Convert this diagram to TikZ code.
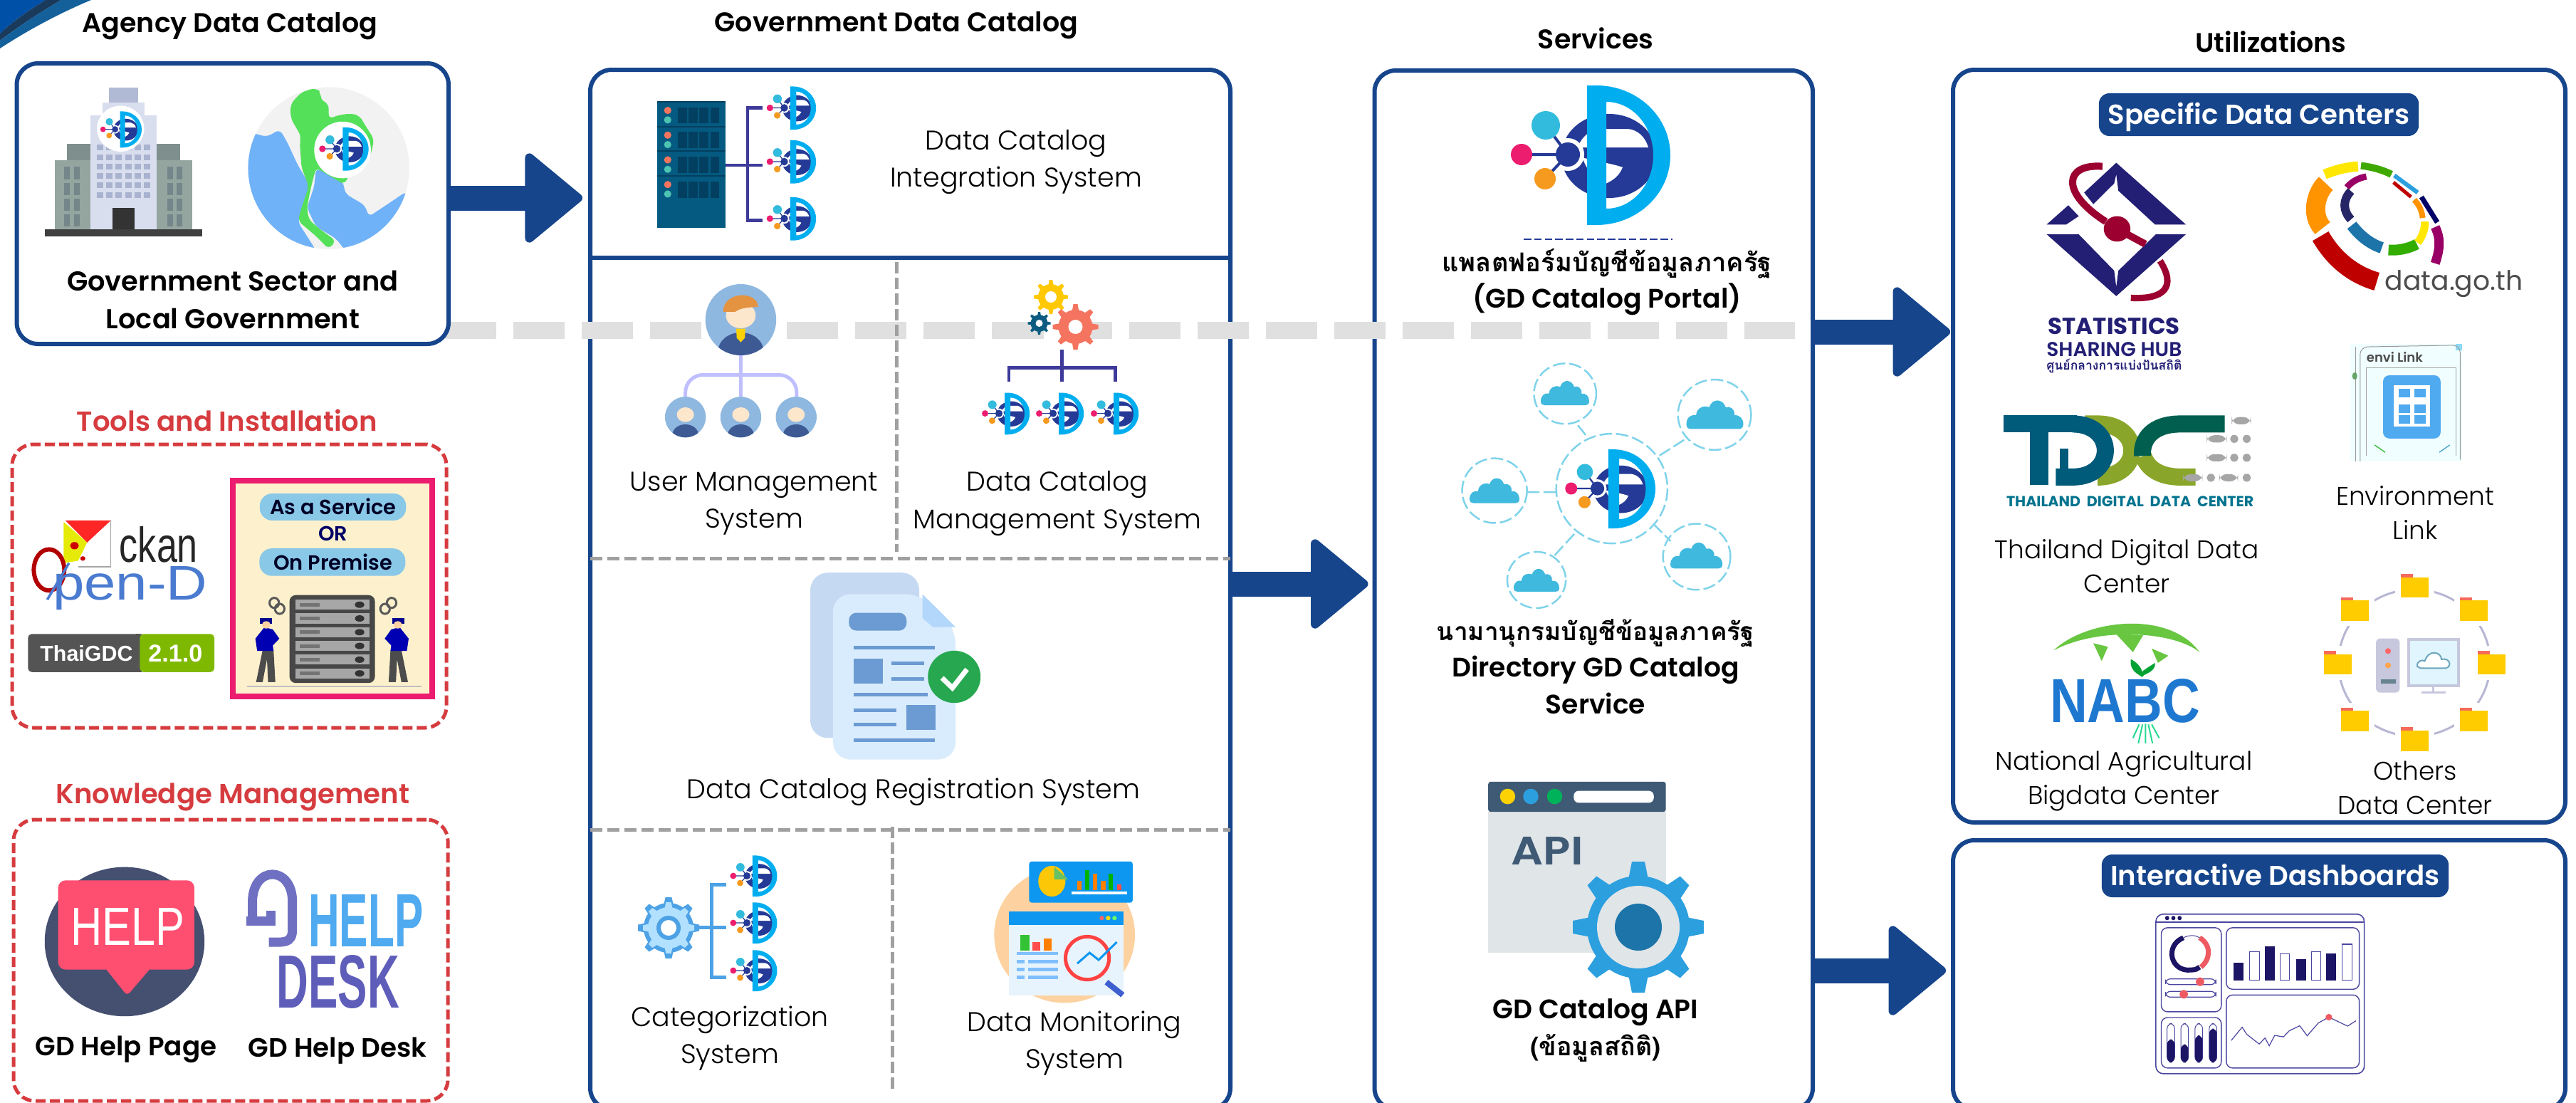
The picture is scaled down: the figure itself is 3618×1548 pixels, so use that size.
\documentclass[tikz,border=0pt]{standalone}
\usepackage{fontspec}
\usepackage{graphicx}
\usetikzlibrary{arrows.meta}
\setmainfont{Poppins}
\newfontfamily\lightf{Poppins Light}
\newfontfamily\semif{Poppins SemiBold}
\newfontfamily\thaif[Script=Thai]{Loma}
\newfontfamily\libf{Liberation Sans}
\definecolor{pnavy}{HTML}{16458C}
\definecolor{kred}{HTML}{D63C3F}
\definecolor{dgray}{HTML}{A0A0A0}
\definecolor{band}{HTML}{E0E0E0}
\definecolor{gdnavy}{HTML}{253A96}
\definecolor{gdcyan}{HTML}{00AEEF}
\definecolor{gdpink}{HTML}{EC1C6E}
\definecolor{gdteal}{HTML}{33BBDD}
\definecolor{gdorange}{HTML}{F59A1F}
\definecolor{trunk}{HTML}{3D3A9A}
\definecolor{statnavy}{HTML}{231F75}
\definecolor{maroon}{HTML}{9B0030}
\definecolor{pblue}{HTML}{8FB8E0}
\definecolor{pdark}{HTML}{3D5A94}
\definecolor{pskin}{HTML}{FCE6CC}
\definecolor{docblue}{HTML}{6B9BD2}
\definecolor{catblue}{HTML}{4DA2E6}
\definecolor{dashnavy}{HTML}{1C1464}
\definecolor{dashred}{HTML}{EE5A62}
\definecolor{dashline}{HTML}{4A46A0}
\definecolor{bldside}{HTML}{94A5A0}
\definecolor{bldtop}{HTML}{7F8F8D}
\definecolor{bldmid}{HTML}{D8DEEE}
\definecolor{bldroof}{HTML}{B0BAD4}
\definecolor{bldwin}{HTML}{A9B3CF}
\definecolor{bldwin2}{HTML}{75868A}
\definecolor{mapblue}{HTML}{70B2F8}
\definecolor{mapgreen}{HTML}{55E05A}
\definecolor{cardfill}{HTML}{FDF1CD}
\definecolor{cardpill}{HTML}{8AC8E8}
\definecolor{helpred}{HTML}{FF4F70}
\definecolor{helpdisk}{HTML}{454F70}
\definecolor{apihead}{HTML}{3F5A75}
\definecolor{apibody}{HTML}{E0E5E8}
\definecolor{apigear}{HTML}{2C9FDF}
\definecolor{apicore}{HTML}{1C74A8}
\definecolor{rack}{HTML}{045A80}
\definecolor{rackdark}{HTML}{033F60}
\definecolor{opblue}{HTML}{4A7BD0}
\definecolor{tdteal}{HTML}{005A7A}
\definecolor{tdgreen}{HTML}{005F4F}
\definecolor{tdolive}{HTML}{8AA62A}
\definecolor{folderY}{HTML}{FFCC00}
\definecolor{folderR}{HTML}{F56B5B}
\definecolor{skyblue}{HTML}{0D97F0}
\definecolor{cloudc}{HTML}{3FB9DD}
\definecolor{cloudr}{HTML}{7FD3EA}
\definecolor{badgeg}{HTML}{7FB800}
\definecolor{enviblue}{HTML}{4FAAF0}
\definecolor{nabcblue}{HTML}{1F78D0}
\definecolor{gearyel}{HTML}{FFC800}
\definecolor{gearred}{HTML}{F4745F}
\definecolor{gearblue}{HTML}{0B5C80}
\definecolor{banA}{HTML}{0050A8}
\definecolor{banB}{HTML}{1A3A5C}
\definecolor{banC}{HTML}{14609A}
\definecolor{docback}{HTML}{C5DAF2}
\definecolor{docfront}{HTML}{D9ECFD}
\definecolor{docfold}{HTML}{B3D7FB}
\definecolor{okgreen}{HTML}{27A850}
\definecolor{peach}{HTML}{FDD2A0}
\definecolor{winbody}{HTML}{E8F4FD}
\definecolor{lenshandle}{HTML}{3F5FD0}
\tikzset{
 lw/.style={line width=#1*0.01cm},
 cA/.style={shift={(0,0)},xscale=.5102,yscale=.3316},
 cB/.style={shift={(0,540)},xscale=.5102,yscale=.6429},
 cC/.style={shift={(800,0)},xscale=.6378,yscale=.5102},
 cD/.style={shift={(800,760)},xscale=.6378,yscale=.5026},
 cE/.style={shift={(1900,0)},xscale=.4464,yscale=.9872},
 cF/.style={shift={(2700,0)},xscale=.5855,yscale=.5102},
 cG/.style={shift={(2700,760)},xscale=.5855,yscale=.5026},
 boxpanel/.style={draw=pnavy,fill=white,lw=6,rounded corners=8.5pt,inner sep=0pt,outer sep=0pt},
 dpanel/.style={draw=kred,lw=5,dash pattern=on .14cm off .06cm,rounded corners=8.5pt,inner sep=0pt,outer sep=0pt},
 headtitle/.style={font=\semif\fontsize{10.8}{13}\selectfont,inner sep=0pt},
 redtitle/.style={font=\semif\fontsize{11}{13}\selectfont,text=kred,inner sep=0pt},
 boldlbl/.style={font=\semif\fontsize{10.6}{14.8}\selectfont,align=center,inner sep=0pt},
 svclbl/.style={font=\semif\fontsize{10.7}{14.7}\selectfont,align=center,inner sep=0pt},
 lite/.style={font=\lightf\fontsize{10.8}{14.8}\selectfont,align=center,inner sep=0pt},
 liteU/.style={font=\lightf\fontsize{10.2}{13.7}\selectfont,align=center,inner sep=0pt},
 pilltxt/.style={fill=pnavy,text=white,font=\semif\fontsize{11}{12}\selectfont,rounded corners=4.2pt,inner sep=0pt,outer sep=0pt,text height=7.7pt,text depth=0pt},
 bigarrow/.style={pnavy,lw=35,-{Triangle[length=.84cm,width=1.36cm,round,line width=.12cm]}},
 plain/.style={inner sep=0pt,outer sep=0pt},
 tree/.style={trunk,lw=4.5},
 cloudring/.style={draw=cloudr,lw=2.5,dash pattern=on 5pt off 1.6pt},
}
\newcommand{\fw}[2]{\resizebox{#1cm}{!}{#2}}
\newcommand{\thaib}[2]{\resizebox{#1cm}{!}{\thaif\bfseries #2}}
\newcommand{\panelbox}[6][boxpanel]{\node[#1,minimum width={(#5-#3)*0.01cm},minimum height={(#6-#4)*0.01cm}] (#2) at ({(#3+#5)/2},{(#4+#6)/2}) {};}
% GD logo: hub at (#1,#2), scale #3, all in reference pixels
\newcommand{\gdl}[3]{\begin{scope}[shift={(#1,#2)},scale=#3]
 \fill[gdnavy] (58,2) circle[x radius=67,y radius=59];
 \fill[white] (14,-10) -- (113,-10) .. controls (108,-26) and (98,-34) .. (85,-36) -- (40,-36) .. controls (28,-32) and (18,-22) .. cycle;
 \fill[white] (20,4) .. controls (40,10) and (60,12) .. (77,18) .. controls (72,30) and (64,36) .. (53,41) .. controls (40,40) and (28,24) .. cycle;
 \fill[gdcyan,even odd rule] (27,-97) -- (40,-97) arc[start angle=-90,end angle=90,x radius=104,y radius=98] -- (27,99) -- cycle (54,-74) arc[start angle=-90,end angle=90,x radius=66,y radius=75] -- cycle;
 \fill[white] (0,0) circle[radius=23];
 \draw[gdnavy,line width={4*#3*0.01cm}] (-65,0)--(0,0) (-31,-41)--(0,0) (-32,34)--(0,0);
 \fill[gdpink] (-65,0) circle[radius=15];
 \fill[gdteal] (-31,-41) circle[radius=20];
 \fill[gdorange] (-32,34) circle[radius=15];
 \fill[gdnavy] (0,0) circle[radius=17];
\end{scope}}
% gear in pixels: x,y,outer radius,body radius,teeth,colour
\newcommand{\gearicon}[6]{\begin{scope}[shift={(#1,#2)}]
 \fill[#6] (0,0) circle[radius=#4];
 \foreach \k in {1,...,#5}{\fill[#6,rotate={\k*360/#5}] (#4*.9,{-1.6*#4/#5}) -- (#3,{-1.0*#4/#5}) -- (#3,{1.0*#4/#5}) -- (#4*.9,{1.6*#4/#5}) -- cycle;}
\end{scope}}
\newcommand{\pbadge}[4]{\begin{scope}
 \fill[pblue] (#1,#2) circle[x radius=#3,y radius=#4];
 \clip (#1,#2) circle[x radius=#3,y radius=#4];
 \fill[pskin] (#1,{#2-.12*#4}) circle[x radius=.42*#3,y radius=.36*#4];
 \fill[pdark] (#1,{#2+.88*#4}) circle[x radius=.64*#3,y radius=.52*#4];
\end{scope}}
\newcommand{\cloudicon}[3]{\begin{scope}[shift={(#1,#2)},scale=#3]
 \fill[cloudc] (-.5,.2) .. controls (-.5,.08) and (-.42,.02) .. (-.33,.04) .. controls (-.32,-.1) and (-.18,-.14) .. (-.1,-.1) .. controls (-.05,-.26) and (.14,-.26) .. (.19,-.1) .. controls (.27,-.13) and (.36,-.06) .. (.34,.04) .. controls (.44,.03) and (.5,.1) .. (.5,.2) .. controls (.5,.26) and (.46,.28) .. (.42,.28) -- (-.42,.28) .. controls (-.46,.28) and (-.5,.26) .. (-.5,.2) -- cycle;
\end{scope}}
\newcommand{\folderic}[2]{
 \fill[white] ({#1-47},{#2-47}) rectangle ({#1+47},{#2+47});
 \fill[folderR] ({#1-33},{#2-33}) rectangle ({#1-4},{#2-20});
 \fill[folderY] ({#1-33},{#2-24}) -- ({#1+33},{#2-24}) -- ({#1+33},{#2+33}) -- ({#1-33},{#2+33}) -- cycle;
}
\begin{document}
\begin{tikzpicture}[x=0.01cm,y=0.01cm,yscale=-1]
\clip (0,0) rectangle (3618,1548);
\fill[white] (0,0) rectangle (3618,1548);
% corner banner
\fill[banA] (0,0) -- (64,0) .. controls (40,15) and (18,30) .. (0,47) -- cycle;
\fill[banB] (64,0) -- (86,0) .. controls (55,18) and (25,38) .. (0,57) -- (0,47) .. controls (18,30) and (40,15) .. (64,0) -- cycle;
\fill[banC] (86,0) -- (128,0) .. controls (80,20) and (35,45) .. (0,68) -- (0,57) .. controls (25,38) and (55,18) .. (86,0) -- cycle;
% main panels
\panelbox{gov}{829}{98}{1728}{1558}
\panelbox{svc}{1930.5}{99}{2546}{1558}
\panelbox{util}{2743}{98}{3603}{1155}
\panelbox{dash}{2743}{1180}{3603}{1558}
\draw[band,lw=24,dash pattern=on .72cm off .24cm] (625,464) -- (2521,464);
\panelbox{agency}{23.5}{89}{630}{483}
\panelbox[dpanel]{tools}{17}{624}{627}{1022}
\panelbox[dpanel]{know}{19}{1151}{629}{1546}
% gov dividers
\draw[pnavy,lw=6] (gov.west |- 0,362) -- (gov.east |- 0,362);
\draw[dgray,lw=5,dash pattern=on .17cm off .07cm] (gov.west |- 0,784) -- (gov.east |- 0,784);
\draw[dgray,lw=5,dash pattern=on .17cm off .07cm] (gov.west |- 0,1165) -- (gov.east |- 0,1165);
\draw[dgray,lw=5,dash pattern=on .16cm off .06cm] (1259,368) -- (1259,775);
\draw[dgray,lw=5,dash pattern=on .16cm off .06cm] (1253.5,1161) -- (1253.5,1530);
% arrows
\draw[bigarrow,shorten >=.11cm] (agency.east |- 0,278) -- (gov.west |- 0,278);
\draw[bigarrow,shorten <=.03cm,shorten >=.09cm] (gov.east |- 0,820) -- (svc.west |- 0,820);
\draw[bigarrow,shorten >=.04cm] (svc.east |- 0,466) -- (util.west |- 0,466);
\draw[bigarrow,shorten >=.10cm] (svc.east |- 0,1363) -- (dash.west |- 0,1363);
% headings
\node[headtitle] (tAgency) at (323,37) {Agency Data Catalog};
\node[headtitle] (tGov) at (1259,36) {Government Data Catalog};
\node[headtitle] (tSvc) at (2241,54) {Services};
\node[headtitle] (tUtil) at (3189.5,59) {Utilizations};
\node[redtitle] (tTools) at (319,590) {Tools and Installation};
\node[redtitle] (tKnow) at (327,1119) {Knowledge Management};
% building
\begin{scope}[cA]
 \fill[black!75] (123,972) rectangle (556,1002);
 \fill[bldside] (150,680) rectangle (530,972);
 \fill[bldtop] (185,610) rectangle (495,680);
 \fill[bldmid] (248,490) rectangle (432,972);
 \fill[bldmid] (283,435) rectangle (397,490);
 \fill[bldroof] (300,370) rectangle (380,435);
 \fill[black!80] (310,880) rectangle (370,972);
 \foreach \r in {625,665,705,745,785,825}{\foreach \c in {275,301,327,353,379,405}{\fill[bldwin] ({\c-9},{\r-12}) rectangle ({\c+9},{\r+12});}}
 \foreach \c in {185,212,468,494}{\foreach \r in {707,775,842,908}{\fill[bldwin2] ({\c-8},\r) rectangle ({\c+8},{\r+52});}}
 \fill[white] (332,545) circle[x radius=65,y radius=97];
\end{scope}
% map
\begin{scope}[cA]
 \begin{scope}
 \clip (905,712) circle[x radius=222,y radius=343];
 \fill[black!5] (600,300) rectangle (1200,1100);
 \fill[mapblue,rounded corners=2pt] (600,560) -- (700,565) -- (735,580) -- (770,548) -- (790,600) -- (820,700) -- (855,790) -- (830,880) -- (820,940) -- (870,1060) -- (600,1060) -- cycle;
 \fill[mapblue,rounded corners=2pt] (870,712) -- (945,770) -- (950,820) -- (1005,870) -- (1015,918) -- (1120,810) -- (1160,1060) -- (950,1060) -- (925,1010) -- (870,960) -- (845,880) -- (865,790) -- cycle;
 \fill[mapgreen,rounded corners=2pt] (870,372) -- (885,395) -- (880,420) -- (905,440) -- (905,505) -- (925,490) -- (965,480) -- (990,490) -- (1005,530) -- (1030,590) -- (1020,660) -- (960,740) -- (950,780) -- (935,770) -- (870,710) -- (855,800) -- (845,880) -- (850,930) -- (880,970) -- (925,1020) -- (905,1055) -- (870,1000) -- (820,935) -- (830,880) -- (850,790) -- (830,710) -- (825,600) -- (830,580) -- (800,500) -- (800,440) -- (830,390) -- cycle;
 \end{scope}
 \fill[white] (943,635) circle[x radius=78,y radius=120];
\end{scope}
\gdl{161.6}{181.6}{.26}
\gdl{473}{209}{.31}
\node[boldlbl,font=\semif\fontsize{10.9}{14.8}\selectfont] (agencyTxt) at (327,421) {Government Sector and\\Local Government};
% ckan / Open-D
\begin{scope}[cB]
 \draw[black!35,lw=1.5] (305,297) -- (305,398) -- (215,398);
 \fill[yellow!90!green] (175,300) -- (240,345) -- (215,385) -- (175,390) -- cycle;
 \fill[red!85!white] (180,297) -- (305,297) -- (240,345) -- cycle;
 \fill[red!80!black] (205,352) circle[x radius=12,y radius=8];
 \fill[red!80!black] (228,380) circle[x radius=7,y radius=5];
 \draw[red!70!black,lw=6] (135,405) circle[x radius=42,y radius=45];
 \draw[opblue,lw=3.5] (190,390) -- (130,470);
 \node[plain,text=black!85] (ckan) at (437,350) {\resizebox{1.10cm}{.50cm}{\libf ckan}};
 \node[plain,text=opblue,anchor=base] (opend) at (358,470) {\resizebox{2.17cm}{.47cm}{\libf pen-D}};
\end{scope}
% badge
\begin{scope}[cB]
 \fill[black!67,rounded corners=1.5pt] (77,545) rectangle (400,628);
 \fill[badgeg,rounded corners=1.5pt] (385,545) rectangle (590,628);
 \fill[black!67] (375,545) rectangle (385,628);
 \node[plain,text=white] (bThai) at (238,587) {\fw{1.30}{\libf\bfseries ThaiGDC}};
 \node[plain,text=white] (bVer) at (483,587) {\fw{.76}{\libf\bfseries 2.1.0}};
\end{scope}
% service card
\begin{scope}[cB]
 \draw[draw=gdpink,fill=cardfill,lw=8] (641,210) rectangle (1189,681);
 \fill[cardpill,rounded corners=5pt] (715,238) rectangle (1118,297);
 \fill[cardpill,rounded corners=5pt] (714,358) rectangle (1116,418);
 \node[plain,text=black!85!blue] (asvc) at (917,266) {\fw{1.77}{\semif As a Service}};
 \node[plain,text=blue!40!black] (orw) at (917,325) {\fw{.41}{\semif OR}};
 \node[plain,text=black!85!blue] (onpr) at (917,388) {\fw{1.67}{\semif On Premise}};
 \draw[black!25,lw=2] (680,660) -- (1160,660);
 \fill[black!72,rounded corners=2.5pt] (797,460) rectangle (1032,652);
 \foreach \r in {481,511,541,571,601,631}{
  \fill[gray!70] (813,{\r-11}) rectangle (1017,{\r+11});
  \fill[black!80] (990,\r) circle[x radius=13,y radius=7];
  \fill[black!55] (825,{\r-4}) rectangle (880,{\r+4});
 }
 \foreach \mx/\sg in {733/1,1095/-1}{
  \fill[black!70] ({\mx-28*\sg},650) -- ({\mx-10*\sg},580) -- ({\mx+20*\sg},580) -- ({\mx+25*\sg},650) -- ({\mx+5*\sg},650) -- ({\mx+2*\sg},600) -- ({\mx-10*\sg},650) -- cycle;
  \fill[blue!70!black] ({\mx-30*\sg},555) -- ({\mx-5*\sg},530) -- ({\mx+18*\sg},535) -- ({\mx+36*\sg},555) -- ({\mx+18*\sg},570) -- ({\mx+20*\sg},582) -- ({\mx-25*\sg},582) -- cycle;
  \fill[blue!55!black] ({\mx-18*\sg},510) rectangle ({\mx+16*\sg},522);
  \fill[pskin!80!orange] (\mx,525) circle[x radius=12,y radius=8];
 }
 \foreach \gx/\gy in {755/477,770/490,1078/477,1060/490}{
  \draw[black!65,lw=3] (\gx,\gy) circle[x radius=13,y radius=11];
 }
\end{scope}
% help icon
\begin{scope}[cB]
 \fill[helpdisk] (343,1217) circle[x radius=220,y radius=163];
 \fill[helpred,rounded corners=3pt] (160,1083) rectangle (535,1278);
 \fill[helpred,rounded corners=1.5pt] (285,1270) -- (350,1335) -- (420,1270) -- cycle;
 \node[plain,text=white] (helpw) at (352,1185) {\resizebox{1.60cm}{.52cm}{\libf HELP}};
 \draw[blue!40!gray!80,lw=13] (695,1175) -- (695,1130) .. controls (695,1050) and (805,1050) .. (805,1130) -- (805,1190) .. controls (805,1222) and (780,1218) .. (740,1218);
 \draw[blue!40!gray!80,lw=13] (678,1172) -- (745,1172) -- (745,1150);
 \node[plain,text=enviblue] (helpb) at (1007,1171) {\resizebox{1.61cm}{.73cm}{\libf\bfseries HELP}};
 \node[plain,text=blue!40!gray!90] (deskb) at (931,1305) {\resizebox{1.72cm}{.74cm}{\libf\bfseries DESK}};
\end{scope}
\node[boldlbl] (lHelpP) at (177,1474) {GD Help Page};
\node[boldlbl] (lHelpD) at (474,1476) {GD Help Desk};
% integration icon
\begin{scope}[cC]
 \fill[rack] (193,280) rectangle (343,627);
 \foreach \r in {280,348,416,484}{
  \draw[rackdark,lw=2] (193,\r) -- (343,\r);
  \fill[gearred] (216,{\r+24}) circle[x radius=8,y radius=10];
  \fill[cyan!50!green!70!white] (216,{\r+50}) circle[x radius=8,y radius=10];
  \foreach \c in {238,262,286,310}{\fill[rackdark] (\c,{\r+15}) rectangle ({\c+20},{\r+60});}
 }
 \draw[tree] (343,455) -- (425,455);
 \draw[tree] (425,297) -- (392,297) -- (392,607) -- (425,607);
\end{scope}
\gdl{1101.5}{151.5}{.31}
\gdl{1101.5}{227}{.31}
\gdl{1101.5}{307}{.31}
\node[lite] (lInteg) at (1427,228) {Data Catalog\\Integration System};
% user icon
\begin{scope}[cC]
 \draw[blue!25!white,lw=5] (377,975) -- (377,1095);
 \draw[blue!25!white,lw=5,rounded corners=7pt] (255,1095) -- (255,1032) -- (500,1032) -- (500,1095);
 \pbadge{377}{880}{78}{98}
 \fill[orange!50!brown!85] (338,858) .. controls (338,800) and (415,800) .. (415,845) .. controls (395,845) and (375,848) .. (365,858) -- cycle;
 \pbadge{255}{1148}{45}{56}
 \pbadge{377}{1148}{45}{56}
 \pbadge{499}{1148}{45}{56}
 \fill[yellow!70!orange] (367,905) -- (387,905) -- (386,930) -- (377,942) -- (368,930) -- cycle;
\end{scope}
\node[lite] (lUser) at (1059,707) {User Management\\System};
% catalog management icon
\gearicon{1476}{417}{24}{18}{8}{gearyel}
\fill[white] (1476,417) circle[radius=8];
\gearicon{1459.5}{454}{16}{12}{8}{gearblue}
\fill[white] (1459.5,454) circle[radius=5];
\gearicon{1510.5}{459}{32}{24}{8}{gearred}
\fill[white] (1510.5,459) circle[radius=10];
\begin{scope}[cC]
 \draw[tree] (1084,962) -- (1084,1050);
 \draw[tree] (967,1050) -- (967,1012) -- (1202,1012) -- (1202,1050);
\end{scope}
\gdl{1403}{580.6}{.3}
\gdl{1479}{580.6}{.3}
\gdl{1556}{580.6}{.3}
\node[lite] (lCatMg) at (1485,707) {Data Catalog\\Management System};
% registration icon
\begin{scope}[cD]
 \fill[docback,rounded corners=7pt] (530,88) rectangle (770,550);
 \fill[docfront,rounded corners=7pt] (580,610) -- (580,148) -- (777,148) -- (850,240) -- (850,610) -- cycle;
 \fill[docfold] (777,148) -- (850,240) -- (800,240) -- (777,215) -- cycle;
 \fill[docblue,rounded corners=3pt] (615,200) rectangle (742,250);
 \draw[docblue,lw=5] (625,298) -- (805,298) (708,342) -- (780,342) (708,384) -- (780,384) (625,428) -- (788,428) (625,472) -- (720,472) (625,513) -- (720,513) (625,557) -- (805,557);
 \fill[docblue] (625,328) rectangle (690,398);
 \fill[docblue] (741,458) rectangle (806,527);
 \fill[okgreen] (847,379) circle[x radius=58,y radius=73];
 \draw[white,lw=7] (820,382) -- (843,410) -- (875,358);
\end{scope}
\node[lite] (lReg) at (1283,1112) {Data Catalog Registration System};
% categorization icon
\gearicon{939}{1303}{43}{35}{8}{catblue}
\gearicon{939}{1303}{36}{29}{8}{blue!40!cyan!30!white}
\fill[catblue] (939,1303) circle[radius=17];
\fill[white] (939,1303) circle[radius=11];
\begin{scope}[cD]
 \draw[catblue,lw=5] (285,1080) -- (345,1080);
 \draw[catblue,lw=5] (345,960) -- (312,960) -- (312,1218) -- (345,1218);
\end{scope}
\gdl{1049}{1230}{.295}
\gdl{1049}{1296}{.295}
\gdl{1049}{1363}{.295}
\node[lite] (lCat) at (1025,1458) {Categorization\\System};
% monitoring icon
\begin{scope}[cD]
 \fill[peach] (1090,1100) circle[x radius=155,y radius=190];
 \fill[skyblue,rounded corners=1pt] (1012,895) rectangle (1240,1010);
 \fill[yellow!60!orange] (1062,950) circle[x radius=30,y radius=43];
 \fill[green!60!black!60!white] (1067,910) -- (1098,945) -- (1067,945) -- cycle;
 \foreach \bx/\by/\bc in {1123/950/orange,1140/920/green!70!black,1157/930/orange,1175/950/orange,1192/930/green!70!black,1210/958/red!70}{\fill[\bc] ({\bx-5},\by) rectangle ({\bx+5},975);}
 \draw[white,lw=4] (1105,983) -- (1227,983);
 \fill[winbody] (967,1035) rectangle (1220,1270);
 \fill[skyblue] (967,1035) rectangle (1220,1073);
 \fill[red!60] (1172,1053) circle[x radius=5,y radius=6];
 \fill[yellow!80!orange] (1186,1053) circle[x radius=5,y radius=6];
 \fill[green!60] (1200,1053) circle[x radius=5,y radius=6];
 \fill[green!70!black!80] (993,1100) rectangle (1013,1145);
 \fill[red!70] (1019,1120) rectangle (1037,1145);
 \fill[orange] (1044,1110) rectangle (1062,1145);
 \draw[blue!50!cyan!50!white,lw=4] (985,1152) -- (1075,1152);
 \foreach \r in {1175,1197,1219}{\draw[blue!50!cyan!50!white,lw=5] (985,\r) -- (1002,\r) (1010,\r) -- (1075,\r);}
 \draw[lenshandle,lw=8] (1182,1232) -- (1218,1268);
 \draw[draw=red!65!pink,fill=winbody,lw=5] (1140,1165) circle[x radius=48,y radius=60];
 \draw[skyblue,lw=3] (1118,1180) -- (1145,1150) -- (1165,1170) -- (1205,1120);
\end{scope}
\node[lite] (lMon) at (1509,1465) {Data Monitoring\\System};
% services icons
\gdl{2202}{217}{1}
\draw[gdnavy,lw=2,dash pattern=on 3pt off 1.2pt] (2140,336) -- (2349,336);
\node[svclbl] (lPortal) at (2257,396) {\thaib{4.63}{แพลตฟอร์มบัญชีข้อมูลภาครัฐ}\\(GD Catalog Portal)};
\begin{scope}[cE]
 \draw[cloudring] (815,695) circle[x radius=175,y radius=78];
 \draw[cloudring] (668,560) circle[x radius=98,y radius=43];
 \draw[cloudring] (1138,590) circle[x radius=115,y radius=50];
 \draw[cloudring] (446,698) circle[x radius=102,y radius=46];
 \draw[cloudring] (1082,792) circle[x radius=106,y radius=47];
 \draw[cloudring] (578,825) circle[x radius=92,y radius=40];
 \draw[cloudring] (708,605) -- (735,620) (965,648) -- (1045,625) (548,700) -- (640,700) (945,745) -- (1000,770) (635,790) -- (700,758);
\end{scope}
\cloudicon{2198}{550}{68}
\cloudicon{2408.5}{580}{80}
\cloudicon{2099}{687}{70}
\cloudicon{2382.6}{778}{73}
\cloudicon{2158}{813}{64}
\gdl{2243.5}{686}{.566}
\node[svclbl] (lDir) at (2241,936) {\thaib{4.46}{นามานุกรมบัญชีข้อมูลภาครัฐ}\\Directory GD Catalog\\Service};
\begin{scope}[cE]
 \fill[apibody] (426,1155) rectangle (985,1355);
 \fill[apihead,rounded corners=1pt] (426,1112) rectangle (985,1155);
 \fill[yellow!70!orange] (487,1133) circle[x radius=24,y radius=11];
 \fill[apigear] (560,1133) circle[x radius=24,y radius=11];
 \fill[green!50!cyan!70!black] (635,1133) circle[x radius=24,y radius=11];
 \fill[white,rounded corners=2pt] (695,1125) rectangle (947,1142);
 \node[plain,text=apihead] (apiw) at (612,1210) {\resizebox{1.01cm}{.39cm}{\semif API}};
\end{scope}
\gearicon{2301}{1302}{92}{72}{8}{apigear}
\fill[apibody] (2301,1302) circle[radius=58];
\fill[apicore] (2301,1302) circle[radius=33];
\node[svclbl] (lApi) at (2241,1447) {GD Catalog API\\\thaib{1.83}{(ข้อมูลสถิติ)}};
% utilization pills
\node[pilltxt,minimum width=4.49cm,minimum height=.60cm] (pSpec) at (3172.5,161) {Specific Data Centers};
\node[pilltxt,minimum width=4.87cm,minimum height=.60cm] (pDash) at (3195.5,1230) {Interactive Dashboards};
% statistics hub
\begin{scope}[cF]
 \fill[statnavy] (465,448) -- (632,618) -- (558,618) -- (470,525) -- (465,480) -- (460,505) -- (410,562) -- (388,530) -- cycle;
 \fill[statnavy] (298,618) -- (350,565) -- (375,595) -- (345,618) -- cycle;
 \fill[statnavy] (298,645) -- (375,645) -- (460,745) -- (465,790) -- (470,745) -- (560,645) -- (632,645) -- (465,815) -- cycle;
 \draw[maroon,lw=10] (432,458) .. controls (340,450) and (330,530) .. (440,610);
 \fill[maroon] (467,630) circle[x radius=32,y radius=35];
 \draw[maroon,lw=10] (467,630) -- (535,672);
 \draw[maroon,lw=9] (570,718) .. controls (610,790) and (580,825) .. (500,820);
 \node[plain,text=statnavy] (st1) at (460,897) {\fw{1.85}{\bfseries STATISTICS}};
 \node[plain,text=statnavy] (st2) at (460,962) {\fw{1.90}{\semif SHARING HUB}};
 \node[plain,text=statnavy] (st3) at (460,1007) {\fw{1.90}{\thaif\bfseries ศูนย์กลางการแบ่งปันสถิติ}};
\end{scope}
% data.go.th
\begin{scope}[cF]
 \draw[red!75!black,lw=26] (955,650) .. controls (985,710) and (1030,755) .. (1090,775);
 \draw[orange!85!yellow,lw=27] (960,628) .. controls (930,590) and (945,530) .. (968,505);
 \draw[yellow!90!orange,lw=14] (965,480) .. controls (985,470) and (1015,460) .. (1045,458);
 \draw[green!55!black!75!yellow,lw=10] (1052,456) .. controls (1080,460) and (1105,468) .. (1125,480);
 \draw[apigear,lw=6] (1132,483) -- (1188,530);
 \draw[blue!40!black,lw=7] (1197,542) -- (1235,612);
 \draw[violet!80!red,lw=13] (1230,625) .. controls (1245,660) and (1240,690) .. (1230,725);
 \draw[violet!80!red,lw=9] (1018,516) .. controls (1030,500) and (1045,490) .. (1065,486);
 \draw[blue!30!black!85,lw=12] (1028,526) .. controls (1008,550) and (1008,580) .. (1028,604);
 \draw[apicore,lw=16] (1030,620) .. controls (1050,650) and (1075,672) .. (1102,682);
 \draw[green!60!black!80!yellow,lw=15] (1118,688) .. controls (1140,690) and (1165,685) .. (1186,672);
 \draw[yellow!90!orange,lw=11] (1188,668) .. controls (1200,650) and (1206,630) .. (1205,610);
 \draw[orange!85!yellow,lw=8] (1200,600) .. controls (1198,580) and (1192,565) .. (1180,550);
 \draw[red!75!black,lw=5] (1172,542) -- (1130,502);
 \node[plain,text=black!70] (dgo) at (1275,782) {\fw{1.93}{data.go.th}};
\end{scope}
% envi link
\begin{scope}[cF]
 \fill[blue!6!cyan!6!white] (1027,947) rectangle (1295,1270);
 \fill[cyan!45] (1280,947) rectangle (1295,965);
 \draw[black!40,lw=1,rounded corners=3pt] (1040,1270) -- (1040,955);
 \draw[black!40,lw=1,rounded corners=3pt] (1050,1270) -- (1050,955) -- (1290,950) -- (1290,1265);
 \draw[black!35,lw=1] (1065,1255) -- (1065,1012) -- (1280,1012) -- (1280,1255);
 \fill[enviblue,rounded corners=2.5pt] (1105,1033) rectangle (1243,1207);
 \fill[white] (1130,1060) rectangle (1218,1175);
 \foreach \cx in {1143,1180}{\foreach \cy in {1070,1113,1143}{\fill[enviblue] (\cx,\cy) rectangle ({\cx+27},{\cy+24});}}
 \node[plain,text=black!70] (envi) at (1133,983) {\fw{.79}{\semif envi Link}};
 \fill[green!40!black!60] (1037,1035) circle[x radius=6,y radius=10];
 \draw[green!50!gray,lw=1.5] (1085,1225) -- (1110,1245);
 \draw[cyan!60!gray,lw=1.5] (1240,1245) -- (1265,1225);
\end{scope}
\node[liteU] (lEnvi) at (3392,720) {Environment\\Link};
% TDDC
\begin{scope}[cF]
 \draw[tdteal,lw=24] (195,1167) -- (370,1167);
 \draw[tdteal,lw=26] (280,1190) -- (280,1335);
 \draw[tdolive,lw=24] (390,1167) -- (420,1167) .. controls (530,1167) and (530,1313) .. (420,1313);
 \draw[tdteal,lw=24] (360,1167) .. controls (465,1167) and (465,1313) .. (360,1313) -- (320,1313);
 \draw[tdteal,lw=12] (340,1313) -- (340,1235);
 \draw[tdolive,lw=24] (530,1255) .. controls (540,1290) and (570,1313) .. (620,1313) -- (655,1313);
 \draw[tdgreen,lw=24] (725,1167) -- (620,1167) .. controls (550,1167) and (525,1210) .. (528,1255);
 \foreach \a/\b/\yy in {742/788/1158,682/730/1208,682/730/1260,625/672/1315,712/757/1315}{\fill[black!35,rounded corners=3pt] (\a,{\yy-10}) rectangle (\b,{\yy+10});}
 \foreach \a/\yy in {748/1208,778/1208,748/1260,778/1260,692/1315,778/1315}{\fill[black!35] (\a,\yy) circle[x radius=10,y radius=11];}
 \node[plain,text=tdteal!85!cyan] (tddc) at (498,1380) {\fw{3.47}{\bfseries THAILAND\ \ DIGITAL\ \ DATA\ \ CENTER}};
\end{scope}
\node[liteU] (lTddc) at (2987,795) {Thailand Digital Data\\Center};
% NABC
\begin{scope}[cG]
 \fill[green!70!yellow!70!black!75!white] (315,305) .. controls (390,220) and (590,190) .. (665,310) .. controls (600,250) and (420,240) .. (315,305) -- cycle;
 \fill[green!70!yellow!70!black!75!white] (410,285) -- (445,295) -- (430,335) -- cycle (465,260) -- (530,262) -- (505,310) -- cycle (550,300) -- (590,320) -- (565,340) -- cycle;
 \fill[green!55!black!80!cyan] (500,330) .. controls (495,370) and (530,375) .. (527,382) .. controls (525,370) and (560,370) .. (558,340) .. controls (545,350) and (530,360) .. (527,365) .. controls (525,350) and (510,335) .. (500,330) -- cycle;
 \node[plain,text=nabcblue] (nabc) at (486,446) {\resizebox{2.11cm}{.61cm}{\libf\bfseries NABC}};
 \draw[green!40!cyan!70!gray,lw=2] (535,510) -- (535,565) (520,512) -- (505,550) (550,512) -- (568,550) (528,512) -- (518,565) (542,512) -- (552,565);
\end{scope}
\node[liteU] (lNabc) at (2983,1097) {National Agricultural\\Bigdata Center};
% others data center
\begin{scope}[cG]
 \draw[blue!25!gray!45,lw=3] (1180,340) circle[x radius=182,y radius=205];
 \folderic{1181}{125}
 \folderic{1323}{190}
 \folderic{1365}{340}
 \folderic{1323}{498}
 \folderic{1181}{553}
 \folderic{1038}{498}
 \folderic{996}{340}
 \folderic{1038}{190}
 \fill[blue!25!gray!35,rounded corners=1.5pt] (1088,272) rectangle (1145,423);
 \fill[red!60] (1117,307) circle[x radius=7,y radius=8];
 \fill[orange!70] (1117,347) circle[x radius=7,y radius=8];
 \fill[cyan!40!black!80] (1100,385) rectangle (1135,397);
 \draw[draw=blue!25!gray!35,fill=cyan!12!white,lw=4] (1167,275) rectangle (1286,403);
 \draw[blue!25!gray!35,lw=3] (1225,405) -- (1225,420) (1198,422) -- (1255,422);
 \draw[cyan!45!gray,fill=white,lw=2] (1187,350) .. controls (1185,335) and (1200,330) .. (1205,335) .. controls (1215,300) and (1245,310) .. (1245,330) .. controls (1265,325) and (1272,350) .. (1255,355) -- (1195,355) -- cycle;
\end{scope}
\node[liteU] (lOther) at (3392,1106) {Others\\Data Center};
% dashboard
\begin{scope}[cG]
 \draw[dashline,lw=1.6,rounded corners=3pt] (560,1488) -- (560,1042) -- (1060,1042) -- (1060,1488) -- cycle;
 \draw[dashline,lw=1.6] (560,1065) -- (1060,1065);
 \foreach \dx in {587,602,617}{\fill[dashnavy] (\dx,1053) circle[x radius=5,y radius=6];}
 \draw[dashline,lw=1.4,rounded corners=2.5pt] (573,1080) rectangle (717,1315);
 \draw[dashline,lw=1.4,rounded corners=2.5pt] (729,1080) rectangle (1048,1252);
 \draw[dashline,lw=1.4,rounded corners=2.5pt] (573,1331) rectangle (717,1472);
 \draw[dashline,lw=1.4,rounded corners=2.5pt] (729,1268) rectangle (1048,1472);
 \draw[dashnavy,lw=7] (626,1108) .. controls (580,1130) and (595,1205) .. (645,1198) .. controls (655,1198) and (660,1195) .. (665,1190);
 \draw[dashred,lw=7] (665,1108) .. controls (695,1130) and (690,1170) .. (668,1190);
 \draw[dashline,lw=1] (626,1108) .. controls (640,1100) and (655,1100) .. (665,1108);
 \foreach \sy/\sx in {1231/666,1266/627}{
  \draw[dashline,lw=1.2,rounded corners=2pt] (583,{\sy-8}) rectangle (704,{\sy+8});
  \fill[dashred] (\sx,\sy) circle[x radius=10,y radius=12];
 }
 \foreach \a/\t in {747/1178,822/1132,896/1168,968/1152}{\fill[dashnavy] (\a,\t) rectangle ({\a+24},1227);}
 \foreach \a/\t in {785/1147,858/1153,933/1147,1007/1126}{\draw[dashline,lw=1.2] (\a,\t) rectangle ({\a+23},1227);}
 \foreach \a/\t in {587/1392,620/1406,654/1381,688/1362}{
  \draw[dashline,lw=1,rounded corners=2pt] (\a,1348) rectangle ({\a+18},1456);
  \fill[dashnavy,rounded corners=2pt] (\a,\t) rectangle ({\a+18},1456);
 }
 \draw[dashline,lw=1.2] (741,1395) -- (767,1358) -- (778,1378) -- (808,1405) -- (822,1388) -- (832,1410) -- (845,1381) -- (866,1385) -- (880,1368) -- (905,1354) -- (923,1382) -- (950,1346) -- (975,1330) -- (1020,1355) -- (1040,1340);
 \fill[dashred] (975,1330) circle[x radius=8,y radius=9];
\end{scope}
\end{tikzpicture}
\end{document}
